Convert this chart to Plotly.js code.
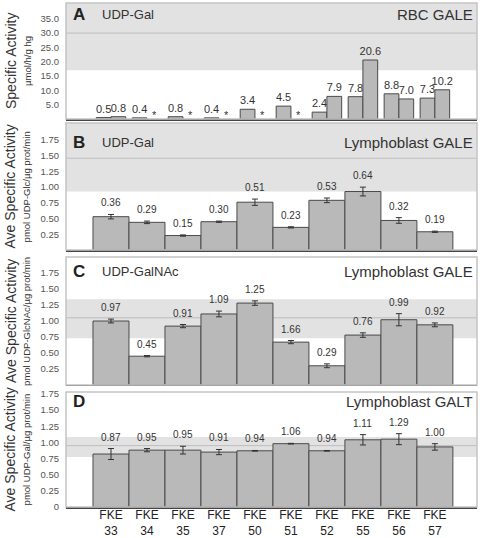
<!DOCTYPE html>
<html><head><meta charset="utf-8">
<script src="https://cdn.plot.ly/plotly-3.0.1.min.js"></script>
<style>html,body{margin:0;padding:0;background:#fff}#chart{width:480px;height:538px}</style>
</head><body><div id="chart"></div>
<script>
// ---------- data ----------
const categories = ['33', '34', '35', '37', '50', '51', '52', '55', '56', '57'];
const tickLabels = categories.map(c => 'FKE<br>' + c);

// Panel A: RBC GALE, UDP-Gal (two measurements; * = not measured)
const rbcFirst  = [0.5, 0.4, 0.8, 0.4, 3.4, 4.5, 2.4, 7.8, 8.8, 7.3];
const rbcSecond = [0.8, null, null, null, null, null, 7.9, 20.6, 7.0, 10.2];

// Panel B: Lymphoblast GALE, UDP-Gal
const galeGalHeights = [0.53, 0.44, 0.23, 0.45, 0.76, 0.36, 0.79, 0.93, 0.47, 0.29];
const galeGalErrors  = [0.035, 0.02, 0.01, 0.01, 0.05, 0.01, 0.037, 0.07, 0.045, 0.01];
const galeGalLabels  = ['0.36', '0.29', '0.15', '0.30', '0.51', '0.23', '0.53', '0.64', '0.32', '0.19'];

// Panel C: Lymphoblast GALE, UDP-GalNAc
const galeNacHeights = [1.00, 0.45, 0.92, 1.11, 1.28, 0.67, 0.30, 0.78, 1.02, 0.94];
const galeNacErrors  = [0.03, 0.01, 0.025, 0.045, 0.035, 0.025, 0.03, 0.035, 0.095, 0.03];
const galeNacLabels  = ['0.97', '0.45', '0.91', '1.09', '1.25', '1.66', '0.29', '0.76', '0.99', '0.92'];

// Panel D: Lymphoblast GALT
const galtHeights = [0.82, 0.88, 0.88, 0.85, 0.87, 0.98, 0.87, 1.04, 1.05, 0.93];
const galtErrors  = [0.085, 0.025, 0.06, 0.04, 0.005, 0.005, 0.005, 0.08, 0.085, 0.05];
const galtLabels  = ['0.87', '0.95', '0.95', '0.91', '0.94', '1.06', '0.94', '1.11', '1.29', '1.00'];

// Reference (control) ranges per panel A..D
const refLow  = [17, 0.93, 0.73, 0.775];
const refHigh = [40.5, 2.02, 1.34, 1.085];
const refMean = [30, 1.46, 1.05, 0.95];

// Axis ranges / ticks per panel
const yMax = [40.5, 2.02, 2.0, 1.78];
const yTicksA = [5, 10, 15, 20, 25, 30, 35];
const yTicksLymph = [0.25, 0.5, 0.75, 1.0, 1.25, 1.5, 1.75];
const yTicksD = [0, 0.25, 0.5, 0.75, 1.0, 1.25, 1.5, 1.75];

// Text
const panelLetters = ['A', 'B', 'C', 'D'];
const substrates = ['UDP-Gal', 'UDP-Gal', 'UDP-GalNAc', ''];
const assays = ['RBC GALE', 'Lymphoblast GALE', 'Lymphoblast GALE', 'Lymphoblast GALT'];
const yTitles = ['Specific Activity', 'Ave Specific Activity', 'Ave Specific Activity', 'Ave Specific Activity'];
const yUnits = ['µmol/h/g hg', 'pmol UDP-Glc/µg prot/min', 'pmol UDP-GlcNAc/µg prot/min', 'pmol UDP-Gal/µg prot/min'];

// ---------- styling ----------
const FONT = 'Liberation Sans, Arial, sans-serif';
const BAR_FILL = '#b9b9b9';
const BAR_LINE = '#4a4a4a';
const xRange = [-1.25, 10.17];
const xDom = [0.1375, 0.99375];
const yDoms = [[0.7788, 0.9944], [0.5353, 0.7714], [0.2844, 0.5223], [0.0576, 0.2714]];
const letterY = [0.905, 0.85, 0.883, 0.913];
const axSuffix = ['', '2', '3', '4'];

const traces = [];
// Panel A
[rbcFirst, rbcSecond].forEach(series => {
  traces.push({
    type: 'bar', x: tickLabels, y: series, xaxis: 'x', yaxis: 'y',
    marker: {color: BAR_FILL, line: {color: BAR_LINE, width: 1}},
    text: series.map(v => v == null ? '' : v.toFixed(1)), textposition: 'outside',
    textfont: {family: FONT, size: 11, color: '#333333'}, outsidetextfont: {family: FONT, size: 11, color: '#333333'},
    constraintext: 'none', cliponaxis: false,
    hoverinfo: 'skip', showlegend: false
  });
});

const lymph = [
  [galeGalHeights, galeGalErrors, galeGalLabels],
  [galeNacHeights, galeNacErrors, galeNacLabels],
  [galtHeights, galtErrors, galtLabels]
];
lymph.forEach((p, i) => {
  const s = axSuffix[i + 1];
  traces.push({
    type: 'bar', x: tickLabels, y: p[0], width: 1, xaxis: 'x' + s, yaxis: 'y' + s,
    marker: {color: BAR_FILL, line: {color: BAR_LINE, width: 1}},
    error_y: {type: 'data', array: p[1], visible: true, color: '#333', thickness: 1, width: 3},
    hoverinfo: 'skip', showlegend: false
  });
});

const layout = {
  width: 480, height: 538,
  margin: {l: 0, r: 0, t: 0, b: 0},
  paper_bgcolor: '#fff', plot_bgcolor: '#fff',
  barmode: 'group', bargap: 0.18, bargroupgap: 0,
  font: {family: FONT, color: '#333'},
  shapes: [], annotations: []
};

for (let i = 0; i < 4; i++) {
  const s = axSuffix[i];
  const xa = 'xaxis' + s, ya = 'yaxis' + s;
  const xref = 'x' + s, yref = 'y' + s;
  layout[xa] = {
    domain: xDom, anchor: yref, type: 'category', range: xRange,
    showgrid: false, zeroline: false, showline: true, linecolor: '#444', linewidth: 1.5,
    ticks: '', showticklabels: i === 3, fixedrange: true, ticklabelstandoff: -4,
    tickfont: {family: FONT, size: 12, color: '#222'}
  };
  const tv = i === 0 ? yTicksA : (i === 3 ? yTicksD : yTicksLymph);
  layout[ya] = {
    domain: yDoms[i], anchor: xref, range: [0, yMax[i]],
    showgrid: false, zeroline: false, showline: false, ticks: '',
    tickvals: tv, ticktext: tv.map(v => v === 0 ? '0' : (i === 0 ? v.toFixed(1) : v.toFixed(2))),
    tickfont: {family: FONT, size: 9.5, color: '#555'}, ticklabelstandoff: 6, fixedrange: true
  };
  // reference band + mean line
  layout.shapes.push({type: 'rect', xref: xref + ' domain', yref: yref, x0: 0, x1: 1,
    y0: refLow[i], y1: refHigh[i], fillcolor: '#e2e2e2', line: {width: 0}, layer: 'below'});
  layout.shapes.push({type: 'line', xref: xref + ' domain', yref: yref, x0: 0, x1: 1,
    y0: refMean[i], y1: refMean[i], line: {color: '#bdbdbd', width: 1}, layer: 'below'});
  // frame
  layout.shapes.push({type: 'rect', xref: xref + ' domain', yref: yref + ' domain', x0: 0, x1: 1,
    y0: 0, y1: 1, fillcolor: 'rgba(0,0,0,0)', line: {color: '#c4c4c4', width: 1.5}, layer: 'above'});
  // panel texts
  layout.annotations.push({xref: xref + ' domain', yref: yref + ' domain', x: 0.012, y: letterY[i],
    xanchor: 'left', yanchor: 'middle', text: '<b>' + panelLetters[i] + '</b>', showarrow: false,
    font: {family: FONT, size: 17, color: '#222'}});
  if (substrates[i]) layout.annotations.push({xref: xref + ' domain', yref: yref + ' domain', x: 0.083, y: letterY[i],
    xanchor: 'left', yanchor: 'middle', text: substrates[i], showarrow: false,
    font: {family: FONT, size: 13, color: '#333'}});
  layout.annotations.push({xref: xref + ' domain', yref: yref + ' domain', x: 0.995, y: letterY[i],
    xanchor: 'right', yanchor: 'middle', text: assays[i], showarrow: false,
    font: {family: FONT, size: 15, color: '#333'}});
  // y titles
  const yc = (yDoms[i][0] + yDoms[i][1]) / 2;
  layout.annotations.push({xref: 'paper', yref: 'paper', x: 0.0229, y: yc, xanchor: 'center', yanchor: 'middle',
    textangle: -90, text: yTitles[i], showarrow: false, font: {family: FONT, size: 14, color: '#333'}});
  layout.annotations.push({xref: 'paper', yref: 'paper', x: 0.056, y: yc, xanchor: 'center', yanchor: 'middle',
    textangle: -90, text: yUnits[i], showarrow: false, font: {family: FONT, size: 9.5, color: '#333'}});
}

// asterisks for missing second RBC measurement
rbcSecond.forEach((v, k) => {
  if (v == null) layout.annotations.push({xref: 'x', yref: 'y', x: k, y: 0, xshift: 8, yshift: -4,
    xanchor: 'center', yanchor: 'bottom', text: '*', showarrow: false,
    font: {family: FONT, size: 11, color: '#333'}});
});

// value labels for lymphoblast panels
lymph.forEach((p, i) => {
  const s = axSuffix[i + 1];
  p[2].forEach((lab, k) => {
    layout.annotations.push({xref: 'x' + s, yref: 'y' + s, x: k, y: p[0][k] + p[1][k], yshift: 4,
      xanchor: 'center', yanchor: 'bottom', text: lab, showarrow: false,
      font: {family: FONT, size: 10, color: '#333'}});
  });
});

Plotly.newPlot('chart', traces, layout, {staticPlot: true, displayModeBar: false});
</script>
</body></html>
